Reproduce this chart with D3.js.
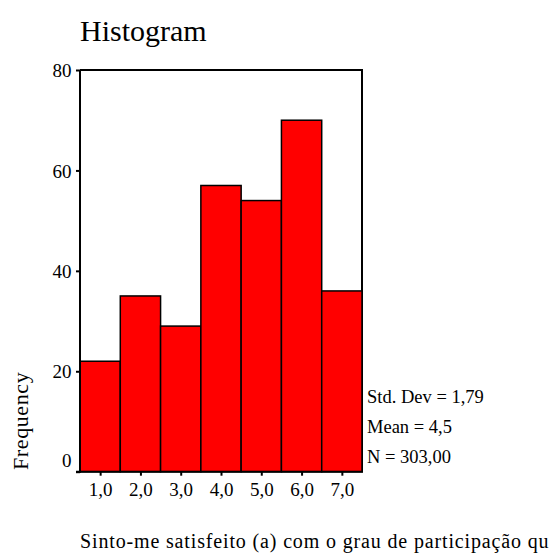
<!DOCTYPE html>
<html>
<head>
<meta charset="utf-8">
<script src="https://cdn.jsdelivr.net/npm/d3@7/dist/d3.min.js"></script>
<style>
  html, body { margin: 0; padding: 0; background: #fff; overflow: hidden; }
  svg text { font-family: "Liberation Serif", "DejaVu Serif", serif !important; fill: #000; }
</style>
</head>
<body>
<svg id="chart" width="549" height="554"></svg>
<script>
// ---- data ----
const binCenters = [1, 2, 3, 4, 5, 6, 7];
const frequencies = [22, 35, 29, 57, 54, 70, 36];
const xTickLabels = ["1,0", "2,0", "3,0", "4,0", "5,0", "6,0", "7,0"];
const yTicks = [0, 20, 40, 60, 80];
const statsLines = ["Std. Dev = 1,79", "Mean = 4,5", "N = 303,00"];
const titleText = "Histogram";
const yAxisTitle = "Frequency";
const xAxisTitle = "Sinto-me satisfeito (a) com o grau de participação qu";

// ---- layout ----
const svg = d3.select("#chart");
const pLeft = 80, pRight = 362, pTop = 70, pBottom = 471.7;

const x = d3.scaleLinear().domain([0.5, 7.5]).range([pLeft, pRight]);
const y = d3.scaleLinear().domain([0, 80]).range([pBottom, pTop]);

// title
svg.append("text")
  .attr("x", 80).attr("y", 41)
  .style("font-size", "30px")
  .text(titleText);

// frame (top & right)
svg.append("path")
  .attr("d", `M${pLeft},${pTop}H${pRight}V${pBottom}`)
  .attr("fill", "none").attr("stroke", "#000").attr("stroke-width", 2);

// bars
svg.append("g").selectAll("rect")
  .data(binCenters)
  .join("rect")
  .attr("x", (d) => x(d - 0.5))
  .attr("width", (d) => x(d + 0.5) - x(d - 0.5))
  .attr("y", (d, i) => y(frequencies[i]))
  .attr("height", (d, i) => y(0) - y(frequencies[i]))
  .attr("fill", "#ff0000")
  .attr("stroke", "#000")
  .attr("stroke-width", 1.5);

// y axis
const yAxis = d3.axisLeft(y).tickValues(yTicks).tickSize(4).tickPadding(4.5).tickFormat(d3.format("d"));
const gy = svg.append("g").attr("transform", `translate(${pLeft},0)`).call(yAxis)
  .attr("font-family", null).attr("font-size", null);
gy.select(".domain").attr("stroke-width", 2).attr("d", `M0,${pTop}V${pBottom + 1}`);
gy.selectAll(".tick line").attr("stroke-width", 2);
gy.selectAll(".tick text")
  .style("font-size", "19px")
  .attr("fill", "#000")
  .attr("dy", (d) => d === 0 ? "-0.27em" : "0.35em");

// x axis
const xAxis = d3.axisBottom(x).tickValues(binCenters).tickSize(4).tickPadding(7)
  .tickFormat((d, i) => xTickLabels[i]);
const gx = svg.append("g").attr("transform", `translate(0,${pBottom})`).call(xAxis)
  .attr("font-family", null).attr("font-size", null);
gx.select(".domain").attr("stroke-width", 2).attr("d", `M${pLeft - 4},0H${pRight + 1}`);
gx.selectAll(".tick line").attr("stroke-width", 2);
gx.selectAll(".tick text")
  .style("font-size", "19px")
  .attr("fill", "#000");

// y axis title
svg.append("text")
  .attr("transform", "translate(28,470) rotate(-90)")
  .style("font-size", "22px")
  .style("letter-spacing", "0.6px")
  .text(yAxisTitle);

// stats
svg.append("g").selectAll("text")
  .data(statsLines)
  .join("text")
  .attr("x", 367)
  .attr("y", (d, i) => 403 + i * 30)
  .style("font-size", "18.5px")
  .text((d) => d);

// x axis title
svg.append("text")
  .attr("x", 80).attr("y", 548)
  .style("font-size", "20px")
  .style("letter-spacing", "0.85px")
  .text(xAxisTitle);
</script>
</body>
</html>
